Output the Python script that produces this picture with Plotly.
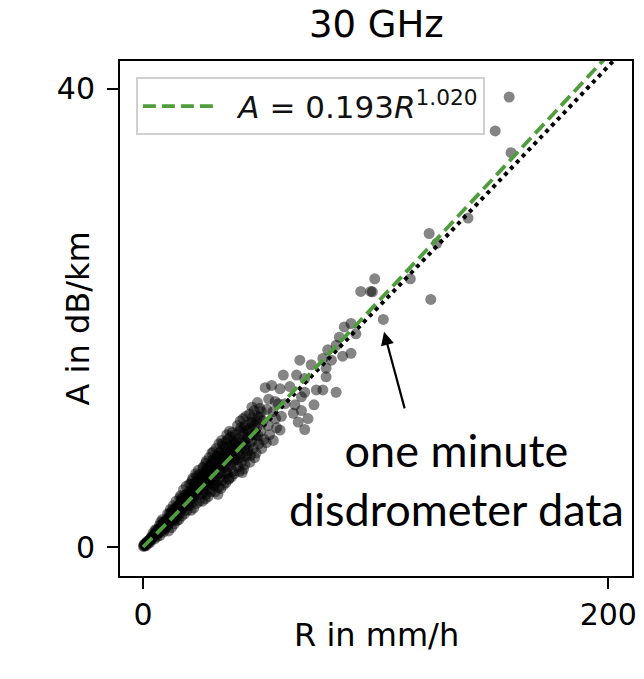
import numpy as np
import plotly.graph_objects as go

# ---- data ----
# dense cluster (one-minute disdrometer data), R in mm/h, A in dB/km
R_dense = [0.2, 0.5, 0.8, 1.0, 1.3, 1.6, 2.0, 2.4, 2.8, 3.2, 3.6, 4.0, 4.5, 4.8, 1.2, 2.2, 3.0, 3.8, 4.3, 5.0,
           5.4, 5.8, 6.2, 6.6, 7.0, 7.4, 7.8, 8.2, 8.6, 9.0, 9.4, 9.8, 6.0, 7.2, 8.8, 9.6, 7.6, 8.4, 10.0, 5.2,
           10.4, 10.8, 11.2, 11.6, 12.0, 12.4, 12.8, 13.2, 13.6, 14.0, 14.4, 14.8, 11.0, 12.2, 13.4, 14.6, 11.8, 13.0, 14.2, 10.6,
           15.2, 15.6, 16.0, 16.4, 16.8, 17.2, 17.6, 18.0, 18.4, 18.8, 19.2, 19.6, 15.4, 16.6, 17.8, 19.0, 16.2, 17.4, 18.6, 19.8, 20.0, 15.8,
           20.4, 20.8, 21.2, 21.6, 22.0, 22.4, 22.8, 23.2, 23.6, 24.0, 24.4, 24.8, 20.6, 21.8, 23.0, 24.2, 21.4, 22.6, 23.8, 25.0, 22.2,
           25.4, 25.8, 26.2, 26.6, 27.0, 27.4, 27.8, 28.2, 28.6, 29.0, 29.4, 29.8, 25.6, 26.8, 28.0, 29.2, 26.0, 27.2, 28.4, 29.6, 30.0, 27.6,
           30.4, 30.8, 31.2, 31.6, 32.0, 32.4, 32.8, 33.2, 33.6, 34.0, 34.4, 34.8, 31.0, 32.2, 33.4, 34.6, 31.4, 32.6, 33.8, 35.0, 30.2, 33.0,
           35.4, 35.8, 36.2, 36.6, 37.0, 37.4, 37.8, 38.2, 38.6, 39.0, 39.4, 39.8, 35.6, 36.8, 38.0, 39.2, 36.0, 37.2, 38.4, 39.6, 37.6,
           40.4, 40.8, 41.2, 41.6, 42.0, 42.4, 42.8, 43.2, 43.6, 44.0, 44.4, 44.8, 40.6, 41.8, 43.0, 44.2, 41.4, 42.6, 43.8, 45.0,
           45.4, 45.8, 46.2, 46.6, 47.0, 47.4, 47.8, 48.2, 48.6, 49.0, 49.4, 49.8, 50.2, 50.6, 51.0, 51.5, 46.0, 48.0, 52.0, 46.8, 49.2,
           52.5, 53.2, 53.8, 54.4, 55.3, 55.8, 56.0, 56.8, 57.4, 58.2, 58.9, 58.9, 59.5, 54.0, 53.0, 57.0]
A_dense = [0.05, 0.1, 0.15, 0.2, 0.3, 0.35, 0.4, 0.5, 0.55, 0.7, 0.65, 0.8, 0.9, 1.0, 0.1, 0.3, 0.4, 0.9, 1.2, 0.7,
           1.1, 1.3, 1.2, 1.5, 1.3, 1.6, 1.9, 1.5, 1.8, 2.1, 1.7, 2.3, 0.9, 1.0, 1.3, 1.6, 2.2, 2.4, 2.0, 1.5,
           2.4, 1.9, 2.6, 2.2, 2.9, 2.3, 3.0, 2.6, 3.3, 2.8, 3.5, 3.0, 1.4, 1.7, 2.0, 2.3, 3.3, 3.6, 4.0, 2.9,
           3.2, 3.7, 3.0, 3.9, 3.4, 4.2, 3.6, 4.5, 3.8, 4.3, 4.0, 4.8, 2.4, 2.7, 2.9, 3.2, 4.5, 5.0, 5.3, 3.6, 5.5, 4.3,
           4.2, 4.9, 3.9, 5.2, 4.5, 5.6, 4.8, 5.0, 6.0, 5.1, 5.7, 4.6, 3.2, 3.4, 3.8, 4.0, 6.0, 6.4, 6.7, 5.3, 5.0,
           6.1, 5.0, 6.5, 5.5, 4.6, 6.8, 5.8, 6.2, 5.0, 7.0, 6.0, 6.6, 4.0, 4.2, 4.4, 4.8, 7.0, 7.5, 7.8, 8.2, 5.4, 6.3,
           6.8, 5.8, 7.4, 6.2, 8.0, 5.2, 7.0, 6.5, 8.4, 5.8, 7.3, 6.9, 4.8, 4.6, 5.1, 5.4, 8.6, 9.0, 9.3, 7.8, 8.3, 7.6,
           8.6, 6.5, 7.9, 9.4, 6.0, 8.2, 7.2, 9.0, 6.6, 8.5, 7.6, 9.8, 5.6, 5.9, 6.1, 6.4, 9.8, 10.1, 10.0, 8.0, 9.6,
           8.8, 7.0, 9.5, 8.0, 10.4, 7.4, 9.1, 6.8, 8.6, 10.6, 7.9, 9.6, 10.6, 11.0, 11.2, 11.4, 6.6, 6.5, 7.2, 8.4,
           10.0, 11.6, 8.0, 9.2, 10.8, 8.6, 11.9, 9.8, 8.2, 10.5, 11.4, 9.0, 12.1, 10.1, 8.6, 11.0, 7.4, 7.8, 9.4, 12.2, 12.6,
           13.9, 12.0, 10.6, 9.8, 14.1, 11.8, 9.3, 12.7, 10.4, 12.5, 10.2, 13.8, 11.4, 12.9, 9.1, 11.2]

# additional points in the dense core
R_core = [0.4, 0.9, 1.5, 1.9, 2.6, 3.4, 4.1, 4.7, 5.5, 6.1, 6.8, 7.3, 7.9, 8.5, 9.1, 9.7, 5.7, 6.4, 7.1, 8.0, 8.9, 9.9,
          10.2, 10.9, 11.5, 12.1, 12.7, 13.3, 13.9, 14.5, 10.5, 11.3, 12.5, 13.5, 14.3, 14.9,
          15.1, 15.7, 16.3, 16.9, 17.5, 18.1, 18.7, 19.3, 19.9, 15.5, 16.5, 17.3, 18.3, 19.1, 19.7,
          20.3, 20.9, 21.5, 22.1, 22.7, 23.3, 23.9, 24.5, 20.7, 21.7, 22.5, 23.5, 24.3, 24.9, 21.1, 23.1,
          25.3, 25.9, 26.5, 27.1, 27.7, 28.3, 28.9, 29.5, 25.7, 26.3, 27.5, 28.5, 29.3, 29.9, 26.9, 28.7,
          30.3, 30.9, 31.5, 32.1, 32.7, 33.3, 33.9, 34.5, 30.7, 31.7, 32.9, 33.7, 34.7, 31.3, 34.1,
          35.3, 35.9, 36.5, 37.1, 37.7, 38.3, 38.9, 39.5, 35.7, 36.9, 38.1, 39.3, 36.3, 38.7,
          40.1, 40.9, 41.5, 42.1, 42.9, 43.5, 44.1, 44.7, 40.3, 41.9, 43.3, 44.5,
          45.1, 45.9, 46.5, 47.3, 47.9, 48.7, 49.5, 50.3, 45.5, 47.1, 48.9, 50.9]
A_core = [0.2, 0.3, 0.4, 0.5, 0.6, 0.8, 0.9, 1.1, 1.2, 1.4, 1.6, 1.5, 1.7, 2.0, 1.9, 2.1, 1.5, 1.2, 1.9, 1.4, 2.2, 1.8,
          2.2, 2.5, 2.4, 2.7, 2.6, 3.0, 3.1, 3.2, 2.0, 2.9, 3.2, 2.4, 2.6, 3.5,
          3.6, 3.3, 4.0, 3.8, 4.0, 3.9, 4.6, 4.4, 4.5, 3.0, 4.2, 3.5, 4.2, 3.7, 4.1,
          4.6, 4.4, 4.9, 5.4, 5.2, 5.5, 5.3, 5.9, 5.5, 4.3, 4.6, 4.9, 6.3, 5.7, 5.8, 6.2,
          5.6, 6.3, 5.9, 6.3, 6.8, 5.6, 6.4, 7.3, 6.9, 4.8, 5.4, 7.1, 5.6, 7.6, 7.3, 6.7,
          7.6, 6.5, 6.9, 7.4, 8.2, 7.1, 7.8, 8.1, 5.4, 7.9, 6.0, 6.4, 8.8, 5.6, 9.0,
          7.2, 8.3, 7.0, 8.8, 8.0, 7.9, 9.3, 8.7, 9.2, 7.6, 8.5, 9.0, 6.4, 7.4,
          9.2, 8.3, 10.1, 8.7, 9.8, 9.3, 8.9, 10.2, 7.6, 7.8, 10.4, 8.1,
          9.5, 10.4, 10.9, 9.8, 10.6, 11.0, 9.7, 11.3, 8.8, 11.3, 9.4, 11.8]

# sparse high-rain-rate points
R_sparse = [60.3, 61.0, 63.1, 64.6, 65.3, 66.0, 66.7, 67.4, 68.1, 68.1, 69.5, 69.5, 69.5, 70.9, 72.3, 73.5,
            74.5, 77.3, 77.3, 78.7, 78.7, 79.4, 81.0, 83.0, 83.0, 84.4, 85.8, 86.5, 89.4, 89.4, 91.5, 93.6,
            97.9, 98.6, 99.6, 103.3, 114.9, 123.7, 123.0, 126.3, 139.7, 151.4, 157.4, 158.2, 185.8]
A_sparse = [15.0, 12.5, 14.0, 11.66, 12.4, 15.0, 10.9, 16.3, 13.1, 11.9, 14.7, 13.5, 10.25, 11.2, 15.9, 12.4,
            13.7, 16.45, 13.7, 15.6, 14.85, 17.2, 16.3, 17.6, 13.5, 18.3, 16.65, 19.2, 19.5, 16.9, 18.6, 22.3,
            22.3, 22.26, 23.4, 19.85, 23.4, 21.6, 27.35, 26.5, 28.7, 36.3, 39.26, 34.4, 42.9]

# power-law fits A = k * R**alpha
fit_k, fit_alpha = 0.193, 1.020      # green dashed (legend)
ref_k, ref_alpha = 0.1886, 1.020     # black dotted reference
R_line = np.linspace(0, 212, 300)

x_ticks = [0, 200]
y_ticks = [0, 40]

R_all = R_dense + R_core + R_sparse
A_all = A_dense + A_core + A_sparse

fig = go.Figure()
fig.add_trace(go.Scatter(
    x=R_all, y=A_all, mode="markers",
    marker=dict(size=11, color="rgba(0,0,0,0.48)", line=dict(width=0)),
    showlegend=False, hoverinfo="skip"))
fig.add_trace(go.Scatter(
    x=R_line, y=ref_k * R_line ** ref_alpha, mode="lines",
    line=dict(color="black", width=4, dash="4px,4.5px"),
    showlegend=False))
fig.add_trace(go.Scatter(
    x=R_line, y=fit_k * R_line ** fit_alpha, mode="lines",
    line=dict(color="#4f9d3c", width=3.8, dash="13px,6px"),
    name="\u2002<i>A</i> = 0.193<i>R</i><sup>1.020</sup>"))

axis_common = dict(
    showgrid=False, zeroline=False, showline=True, linecolor="black", linewidth=2,
    mirror=True, ticks="outside", ticklen=11, tickwidth=2, tickcolor="black",
    tickfont=dict(family="DejaVu Sans", size=30, color="black"))

fig.update_xaxes(range=[-9.9, 210.2], tickvals=x_ticks, ticktext=[str(v) for v in x_ticks], **axis_common)
fig.update_yaxes(range=[-2.53, 42.4], tickvals=y_ticks, ticktext=[str(v) for v in y_ticks],
                 ticklabelstandoff=6, **axis_common)

fig.update_layout(
    width=644, height=679,
    margin=dict(l=120, r=7, t=61, b=103),
    paper_bgcolor="white", plot_bgcolor="white",
    font=dict(family="DejaVu Sans", color="black"),
    legend=dict(x=0.031, y=0.968, xanchor="left", yanchor="top", itemwidth=75,
                bgcolor="white", bordercolor="#d0d0d0", borderwidth=2,
                font=dict(family="DejaVu Sans", size=31, color="#111")),
    annotations=[
        dict(text="30 GHz", xref="paper", yref="paper", x=0.5, y=1, yshift=37,
             showarrow=False, font=dict(family="DejaVu Sans", size=37), xanchor="center", yanchor="middle"),
        dict(text="R in mm/h", xref="paper", yref="paper", x=0.5, y=0, yshift=-59,
             showarrow=False, font=dict(family="DejaVu Sans", size=32), xanchor="center", yanchor="middle"),
        dict(text="A in dB/km", xref="paper", yref="paper", x=0, y=0.5, xshift=-43, textangle=-90,
             showarrow=False, font=dict(family="DejaVu Sans", size=32), xanchor="center", yanchor="middle"),
        dict(text="", x=103.6, y=18.77, xref="x", yref="y", showarrow=True,
             arrowhead=2, arrowsize=1.2, arrowwidth=2.2, arrowcolor="black", ax=21, ay=78),
        dict(text="one minute<br>disdrometer data", xref="paper", yref="paper",
             x=(460 - 120) / 517.3, y=1 - (479 - 60.7) / 515.3, xanchor="center", yanchor="middle",
             align="center", showarrow=False, font=dict(family="Lato", size=45, color="black")),
    ],
)

fig.write_html("out.html", config={"displayModeBar": False},
               post_script="document.body.style.margin='0';")
